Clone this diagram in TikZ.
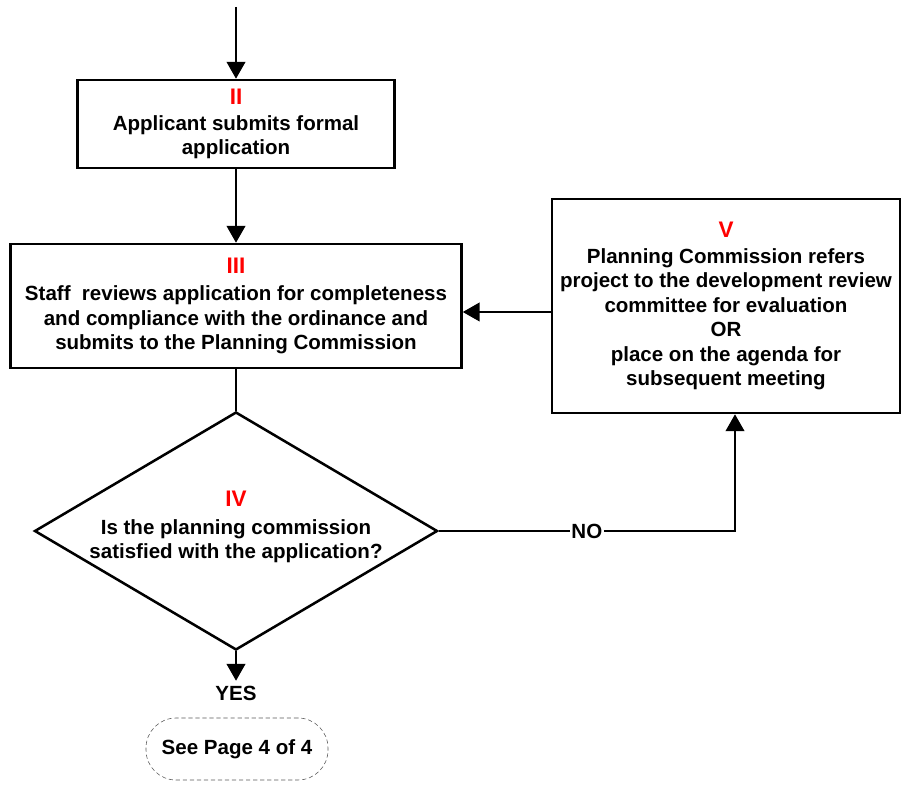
\documentclass[tikz,border=0pt]{standalone}
\usepackage{fontspec}
\setmainfont{Liberation Sans}
\usetikzlibrary{arrows.meta,shapes.geometric}

\newcommand{\stagenum}[1]{{\color{red}\fontsize{16}{19}\selectfont #1}}

\tikzset{
    boxfont/.style={font=\bfseries\fontsize{14.6}{17.4}\selectfont},
    stage/.style={draw, line width=1.8pt, align=center, inner sep=0pt, boxfont},
    decision/.style={draw, diamond, line width=1.8pt, inner sep=0pt},
    flow/.style={line width=1.8pt, -{Triangle[length=0.42cm,width=0.46cm]}},
    offpage/.style={draw=gray!70!black, densely dashed, thin, rounded corners=0.75cm, boxfont}
}

\begin{document}
\begin{tikzpicture}
        \useasboundingbox (0,0) rectangle (22.55,19.625);

        % Incoming line
        \coordinate (start) at (5.9,19.45);

        % Step II
        \node[stage, minimum width=7.925cm, minimum height=2.2cm] (II) at (5.9,16.525) {\stagenum{II}\\[1pt] Applicant submits formal \\ application};

        % Step III
        \node[stage, minimum width=11.275cm, minimum height=3.1cm] (III) at (5.9,11.975) {\stagenum{III}\\[2pt] Staff\ \ reviews application for completeness \\ and compliance with the ordinance and \\ submits to the Planning Commission};

        % Step V
        \node[stage, minimum width=8.7cm, minimum height=5.35cm] (V) at (18.15,11.975) {\stagenum{V}\\[1pt] Planning Commission refers \\ project to the development review \\ committee for evaluation \\ OR \\ place on the agenda for \\ subsequent meeting};

        % Step IV (decision)
        \node[decision, minimum width=10.075cm, minimum height=5.95cm] (IV) at (5.9,6.35) {};
        \node[align=center, boxfont] (IVtext) at ([yshift=0.1cm]IV.center) {\stagenum{IV}\\[2pt] Is the planning commission \\ satisfied with the application?};

        % YES and next page
        \node[boxfont] (yes) at (5.9,2.3) {YES};
        \node[offpage, minimum width=4.55cm, minimum height=1.55cm] (page) at (5.925,0.9) {See Page 4 of 4};

        % Connectors
        \draw[flow] (start) -- (II);
        \draw[flow] (II) -- (III);
        \draw[line width=1.8pt] (III.south) -- (IV.north);
        \draw[flow] ([yshift=-0.15cm]V.west) -- ([yshift=-0.15cm]III.east);
        \draw[flow] (IV.east) -| node[pos=0.25, fill=white, inner sep=1pt, boxfont] {NO} ([xshift=0.225cm]V.south);
        \draw[flow] (IV.south) -- (yes.north);
    \end{tikzpicture}
\end{document}
